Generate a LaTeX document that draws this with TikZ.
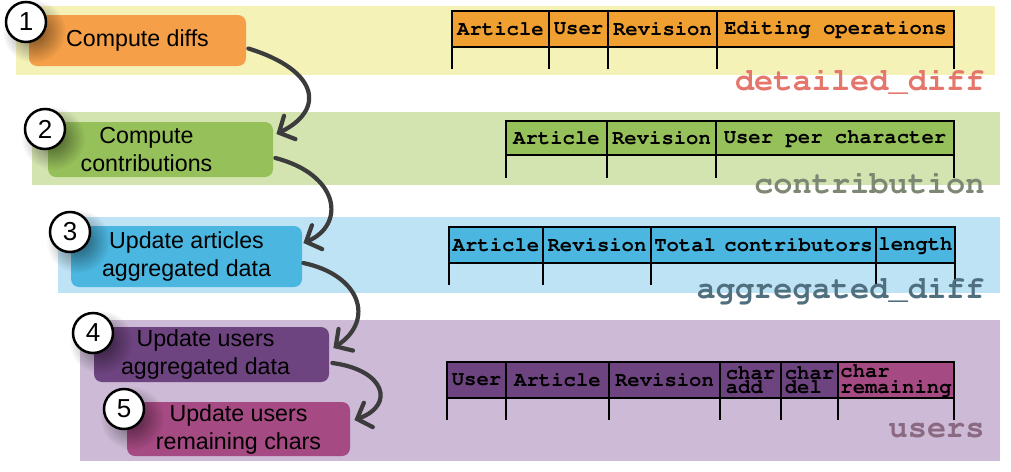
\documentclass[tikz,border=0pt]{standalone}
\usepackage[T1]{fontenc}
\usepackage{fontspec}
\setmainfont{Liberation Sans}
\usetikzlibrary{arrows.meta,fadings}
\newcommand\courfont{\fontencoding{T1}\fontfamily{pcr}\selectfont}
\definecolor{yband}{HTML}{F5F2B8}
\definecolor{gband}{HTML}{D4E4B0}
\definecolor{bband}{HTML}{BEE3F5}
\definecolor{pband}{HTML}{CDBAD6}
\definecolor{obox}{HTML}{F5A048}
\definecolor{ohead}{HTML}{F0A030}
\definecolor{gbox}{HTML}{96C05A}
\definecolor{bbox}{HTML}{4BB6E0}
\definecolor{pbox}{HTML}{6E4480}
\definecolor{mbox}{HTML}{A54A82}
\definecolor{arrowgray}{HTML}{3C3C3C}
\definecolor{lab1}{HTML}{E4766C}
\definecolor{lab2}{HTML}{7D8773}
\definecolor{lab3}{HTML}{507080}
\definecolor{lab4}{HTML}{8C6982}
\tikzfading[name=softshadow, inner color=transparent!45, outer color=transparent!100]
\newcommand\hcell[7]{\path[draw=black,line width=1pt,fill=#6] (#2,#4) rectangle (#3,#5);
  \node[tabtext] (#1) at ({(#2+#3)/2},{(#4+#5)/2}) {#7};}
\begin{document}
\begin{tikzpicture}[x=0.5pt,y=-0.5pt,
  stepbox/.style={rounded corners=4pt, inner sep=0pt, align=center,
    font=\fontsize{11.6}{14}\selectfont, text=black},
  num/.style={circle, draw=black, fill=white, line width=1.25pt,
    minimum size=20pt, inner sep=0pt, font=\fontsize{13}{13}\selectfont},
  flow/.style={line width=2.1pt, draw=arrowgray, line cap=round,
    -{Straight Barb[length=6pt,width=13pt,line cap=round]}},
  tabtext/.style={font=\courfont\bfseries\fontsize{10.3}{6.8}\selectfont, inner sep=0pt, align=left},
  tlabel/.style={font=\courfont\bfseries\fontsize{16}{16}\selectfont, anchor=base east, inner sep=0pt},
  tline/.style={line width=1pt, draw=black}]
\useasboundingbox (0,0) rectangle (1011,471);
\fill[white] (0,0) rectangle (1011,471);
% bands
\fill[yband] (16,6) rectangle (995,75);
\fill[gband] (32,112) rectangle (1000,185);
\fill[bband] (58,217) rectangle (1000,293);
\fill[pband] (80,320) rectangle (1000,461);
% step boxes
\node[stepbox, fill=obox, minimum width=108.5pt, minimum height=25.5pt] (s1) at (137.5,40.5) {Compute diffs};
\node[stepbox, fill=gbox, minimum width=112.5pt, minimum height=27.5pt] (s2) at (160.5,149.5) {\hspace*{-14pt}Compute\\\hspace*{-14pt}contributions};
\node[stepbox, fill=bbox, minimum width=115.5pt, minimum height=30.5pt] (s3) at (186.5,256.5) {Update articles\\aggregated data};
\node[stepbox, fill=pbox, minimum width=117.5pt, minimum height=27.5pt] (s4) at (211.5,354.5) {\hspace*{-6pt}Update users\\\hspace*{-6pt}aggregated data};
\node[stepbox, fill=mbox, minimum width=111.5pt, minimum height=27pt] (s5) at (238.5,429) {Update users\\remaining chars};
% shadows of the number circles
\fill[black, path fading=softshadow] (34,31) circle (32);
\fill[black, path fading=softshadow] (53,138) circle (32);
\fill[black, path fading=softshadow] (78,241) circle (32);
\fill[black, path fading=softshadow] (101,342) circle (32);
\fill[black, path fading=softshadow] (132,418) circle (32);
% number circles
\node[num] (n1) at (26,22) {1};
\node[num] (n2) at (45,129) {2};
\node[num] (n3) at (70,232) {3};
\node[num] (n4) at (93,333) {4};
\node[num] (n5) at (124,409) {5};
% flow arrows
\draw[flow] ([xshift=1pt,yshift=-4pt]s1.east) .. controls +(71,22) and +(49,-24) .. ([xshift=1.5pt,yshift=7.75pt]s2.east);
\draw[flow] ([xshift=1pt,yshift=-4.25pt]s2.east) .. controls +(65,17) and +(42,-18) .. ([xshift=0.5pt,yshift=6.75pt]s3.east);
\draw[flow] ([xshift=0.5pt,yshift=-3.25pt]s3.east) .. controls +(57,12) and +(42,-28) .. ([xshift=2pt,yshift=3.25pt]s4.east);
\draw[flow] ([xshift=1.5pt,yshift=-4.25pt]s4.east) .. controls +(53,7) and +(41,-15) .. ([xshift=2pt,yshift=4.5pt]s5.east);
% table 1: detailed_diff
\hcell{a1}{452}{549}{11}{47}{ohead}{Article}
\hcell{u1}{549}{608}{11}{47}{ohead}{User}
\hcell{r1}{608}{717}{11}{47}{ohead}{Revision}
\hcell{e1}{717}{954}{11}{47}{ohead}{Editing operations}
\foreach \x in {452,549,608,717,954} \draw[tline] (\x,47) -- (\x,69);
\node[tlabel, text=lab1] (l1) at (985,90) {detailed\_diff};
% table 2: contribution
\hcell{a2}{506}{607}{121}{155}{gbox}{Article}
\hcell{r2}{607}{716}{121}{155}{gbox}{Revision}
\hcell{p2}{716}{954}{121}{155}{gbox}{User per character}
\foreach \x in {506,607,716,954} \draw[tline] (\x,155) -- (\x,178);
\node[tlabel, text=lab2] (l2) at (985,193) {contribution};
% table 3: aggregated_diff
\hcell{a3}{449}{543}{227}{263}{bbox}{Article}
\hcell{r3}{543}{651}{227}{263}{bbox}{Revision}
\hcell{t3}{651}{876}{227}{263}{bbox}{Total\hspace{-2pt} contributors}
\hcell{g3}{876}{955}{227}{263}{bbox}{length}
\foreach \x in {449,543,651,876,955} \draw[tline] (\x,263) -- (\x,285);
\node[tlabel, text=lab3] (l3) at (985,298) {aggregated\_diff};
% table 4: users
\hcell{u4}{447}{506}{362}{398}{pbox}{User}
\hcell{a4}{506}{609}{362}{398}{pbox}{Article}
\hcell{r4}{609}{720}{362}{398}{pbox}{Revision}
\hcell{ca4}{720}{781}{362}{398}{pbox}{char\\add}
\hcell{cd4}{781}{838}{362}{398}{pbox}{char\\del}
\hcell{cr4}{838}{954}{362}{398}{mbox}{char\\remaining}
\foreach \x in {447,506,609,720,781,838,954} \draw[tline] (\x,398) -- (\x,420);
\node[tlabel, text=lab4] (l4) at (985,437) {users};
\end{tikzpicture}
\end{document}
